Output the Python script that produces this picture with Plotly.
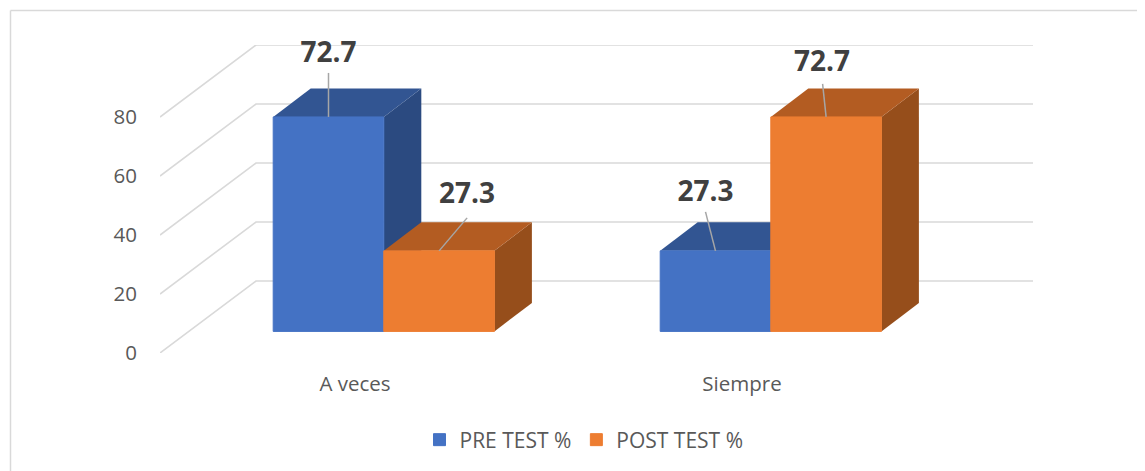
import plotly.graph_objects as go

# ---- data ----
categories = ["A veces", "Siempre"]
pre_test = [72.7, 27.3]
post_test = [27.3, 72.7]
axis_ticks = [0, 20, 40, 60, 80]
series_names = ["PRE TEST %", "POST TEST %"]

# ---- geometry of the pseudo-3D view, in screen pixels ----
W, H = 1145, 471
PAGE = 8                             # body margin of the page
L, R, T, B = 160, 1033, 45, 353      # plot rectangle on screen
PX_PER_UNIT = 2.95
PX_PER_CAT = 387
CAT0_PX = 355
WALL_DX, WALL_DY = 96, 72            # floor depth
BAR_SHIFT_X, BAR_LIFT = 28.8, 21.6   # bar front plane relative to axis plane
BAR_DX, BAR_DY = 37.5, 28.5          # bar depth
BAR_W = 110.6

ux = 1 / PX_PER_CAT
uy = 1 / PX_PER_UNIT
xr = [(L - CAT0_PX) * ux, (R - CAT0_PX) * ux]
yr = [0, (B - T) * uy]

BLUE, BLUE_TOP, BLUE_SIDE = "#4472C4", "#325592", "#2B4A80"
ORANGE, ORANGE_TOP, ORANGE_SIDE = "#ED7D31", "#B35C22", "#964E1B"
GRID = "#D9D9D9"
FONT = "Open Sans, Noto Sans, sans-serif"

fig = go.Figure()

# gridlines: side wall diagonals + back wall
for v in axis_ticks:
    fig.add_trace(go.Scatter(
        x=[xr[0], xr[0] + WALL_DX * ux, xr[1]],
        y=[v, v + WALL_DY * uy, v + WALL_DY * uy],
        mode="lines", line=dict(color=GRID, width=1.6),
        showlegend=False, hoverinfo="skip"))

def faces(cat_i, side, value, top_col, side_col):
    """top and side of a bar; side = -1 left of the group centre, 0 right."""
    x0 = cat_i + BAR_SHIFT_X * ux + side * BAR_W * ux
    x1 = x0 + BAR_W * ux
    b = BAR_LIFT * uy
    t = b + value
    dx, dy = BAR_DX * ux, BAR_DY * uy
    fig.add_trace(go.Scatter(
        x=[x1, x1 + dx, x1 + dx, x1, x1], y=[b, b + dy, t + dy, t, b],
        mode="lines", fill="toself", fillcolor=side_col, line=dict(width=0),
        showlegend=False, hoverinfo="skip"))
    fig.add_trace(go.Scatter(
        x=[x0, x0 + dx, x1 + dx, x1, x0], y=[t, t + dy, t + dy, t, t],
        mode="lines", fill="toself", fillcolor=top_col, line=dict(width=0),
        showlegend=False, hoverinfo="skip"))

for i in range(len(categories)):
    faces(i, -1, pre_test[i], BLUE_TOP, BLUE_SIDE)
    faces(i, 0, post_test[i], ORANGE_TOP, ORANGE_SIDE)

# front faces, on an overlaying axis pair so they sit on top of the depth faces
xs = [i + BAR_SHIFT_X * ux for i in range(len(categories))]
fig.add_trace(go.Bar(
    x=[x - BAR_W * ux / 2 for x in xs], y=pre_test, base=BAR_LIFT * uy,
    width=BAR_W * ux, name=series_names[0],
    marker=dict(color=BLUE, line=dict(width=1, color=BLUE)),
    xaxis="x2", yaxis="y2", hoverinfo="skip"))
fig.add_trace(go.Bar(
    x=[x + BAR_W * ux / 2 for x in xs], y=post_test, base=BAR_LIFT * uy,
    width=BAR_W * ux, name=series_names[1],
    marker=dict(color=ORANGE, line=dict(width=1, color=ORANGE)),
    xaxis="x2", yaxis="y2", hoverinfo="skip"))

# data labels with leader lines (offsets from the top-centre of each bar, px)
leader_offsets = {(0, 0): (0, 44), (0, 1): (28, 33), (1, 0): (-10, 39), (1, 1): (-3.5, 33)}
label_offsets = {(0, 0): (0, 62), (0, 1): (28, 55), (1, 0): (-10, 57), (1, 1): (-4, 53)}
for s, vals in enumerate([pre_test, post_test]):
    for i, v in enumerate(vals):
        cx = xs[i] + (s - 0.5) * BAR_W * ux
        top = BAR_LIFT * uy + v
        ldx, ldy = leader_offsets[(i, s)]
        tdx, tdy = label_offsets[(i, s)]
        fig.add_trace(go.Scatter(
            x=[cx, cx + ldx * ux], y=[top, top + ldy * uy], mode="lines",
            line=dict(color="#A6A6A6", width=1.5), showlegend=False, hoverinfo="skip",
            xaxis="x2", yaxis="y2", cliponaxis=False))
        fig.add_trace(go.Scatter(
            x=[cx + tdx * ux], y=[top + tdy * uy], mode="text", text=[f"{v:.1f}"],
            textposition="middle center",
            textfont=dict(family=FONT, size=28, color="#404040", weight="bold"),
            showlegend=False, hoverinfo="skip", xaxis="x2", yaxis="y2", cliponaxis=False))

def paper_x(px):
    return (px - L) / (R - L)

def paper_y(py):
    return (B - py) / (B - T)

fig.update_layout(
    width=W, height=H,
    margin=dict(l=L - PAGE, r=W - R + PAGE, t=T - PAGE, b=H - B + PAGE),
    paper_bgcolor="white", plot_bgcolor="white",
    barmode="overlay",
    font=dict(family=FONT, size=20, color="#595959"),
    xaxis=dict(range=xr, tickmode="array", tickvals=list(range(len(categories))),
               ticktext=categories, showgrid=False, zeroline=False, showline=False,
               ticks="", ticklabelstandoff=16, tickfont=dict(size=20.5, color="#595959")),
    yaxis=dict(range=yr, tickmode="array", tickvals=axis_ticks,
               showgrid=False, zeroline=False, showline=False, ticks="",
               ticklabelstandoff=22, tickfont=dict(size=20.5, color="#595959")),
    xaxis2=dict(range=xr, overlaying="x", visible=False),
    yaxis2=dict(range=yr, overlaying="y", visible=False),
    legend=dict(orientation="h", x=paper_x(584), y=paper_y(440),
                xanchor="center", yanchor="middle", font=dict(size=21, color="#595959"),
                bgcolor="rgba(0,0,0,0)"),
    shapes=[
        dict(type="line", xref="paper", yref="paper", layer="below",
             x0=paper_x(10.5), x1=paper_x(W + PAGE), y0=paper_y(10.5), y1=paper_y(10.5),
             line=dict(color=GRID, width=1.5)),
        dict(type="line", xref="paper", yref="paper", layer="below",
             x0=paper_x(10.5), x1=paper_x(10.5), y0=paper_y(10.5), y1=paper_y(H + PAGE),
             line=dict(color=GRID, width=1.5)),
    ],
)

fig.write_html("out.html", config=dict(displayModeBar=False))
